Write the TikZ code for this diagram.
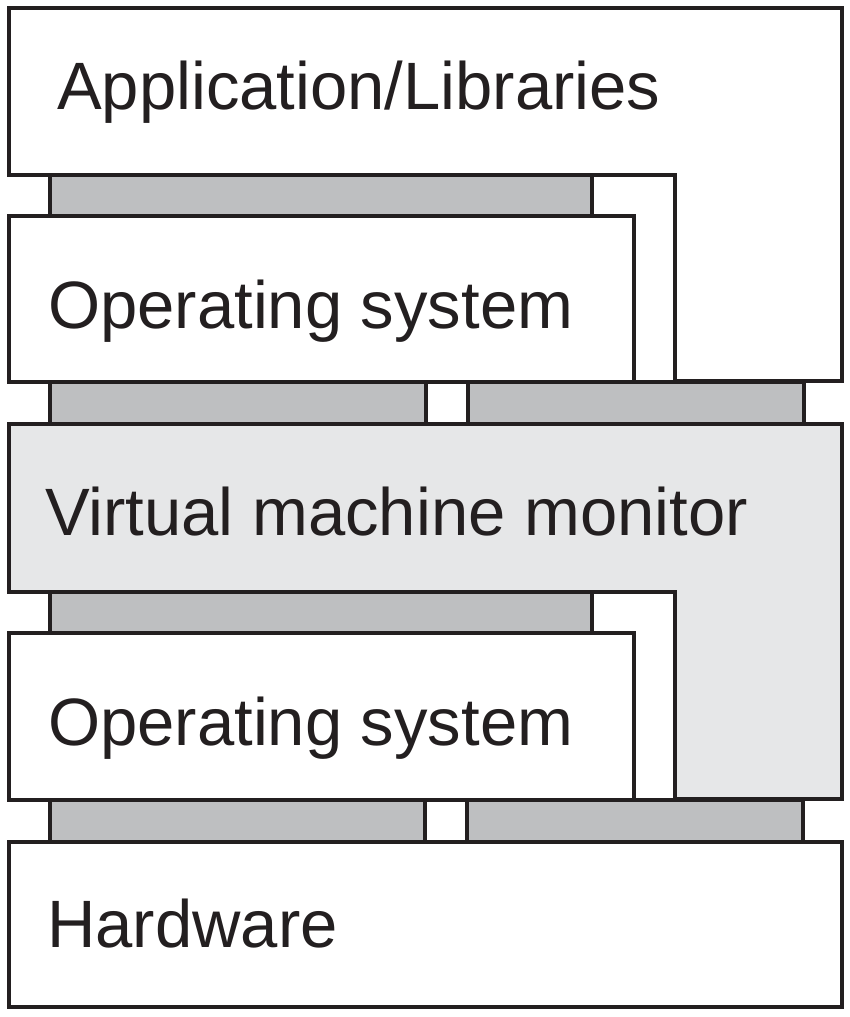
\documentclass[tikz,border=0pt]{standalone}
\usepackage{fontspec}
\setmainfont{Liberation Sans}
\definecolor{ink}{HTML}{231F20}
\definecolor{pad}{HTML}{BEBFC1}
\definecolor{vmm}{HTML}{E6E7E8}
\tikzset{
  box/.style={draw=ink, line width=4pt, fill=white, line join=miter},
  vbox/.style={draw=ink, line width=4pt, fill=vmm, line join=miter},
  padbox/.style={draw=ink, line width=4pt, fill=pad},
  lbl/.style={anchor=base west, inner sep=0pt, text=ink, font=\fontsize{67}{70}\selectfont}
}
\begin{document}
\begin{tikzpicture}[x=1pt,y=-1pt]
\useasboundingbox (0,0) rectangle (850,1017);
% interfaces
\draw[padbox] (50,175) rectangle (592,216);
\draw[padbox] (50,382) rectangle (426,424);
\draw[padbox] (468,382) rectangle (804,424);
\draw[padbox] (50,592) rectangle (592,633);
\draw[padbox] (50,800) rectangle (425,842);
\draw[padbox] (467,800) rectangle (803,842);
% layers
\draw[box] (9,8) -- (842,8) -- (842,381) -- (675,381) -- (675,175) -- (9,175) -- cycle;
\draw[box] (9,216) rectangle (634,382);
\draw[vbox] (9,424) -- (842,424) -- (842,799) -- (675,799) -- (675,592) -- (9,592) -- cycle;
\draw[box] (9,633) rectangle (634,800);
\draw[box] (9,842) rectangle (842,1007);
% labels
\node[lbl] (app) at (57,109) {Application/Libraries};
\node[lbl] (os1) at (48,328) {Operating system};
\node[lbl] (vm) at (45,535) {Virtual machine monitor};
\node[lbl] (os2) at (48,745) {Operating system};
\node[lbl] (hw) at (47,947) {Hardware};
\end{tikzpicture}
\end{document}
